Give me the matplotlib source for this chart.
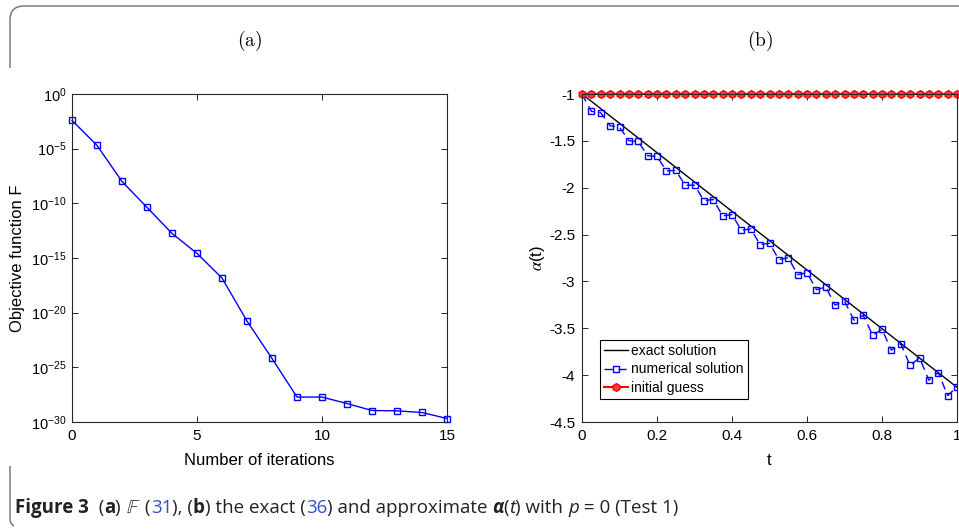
import matplotlib
matplotlib.use("Agg")
import matplotlib.pyplot as plt
from matplotlib.path import Path
from matplotlib.patches import PathPatch
from matplotlib.ticker import NullLocator, LogFormatterSciNotation

# (a) objective function value per iteration
iterations = list(range(16))
objective_log10 = [-2.41, -4.70, -8.00, -10.37, -12.75, -14.58, -16.83, -20.77,
                   -24.19, -27.72, -27.72, -28.31, -28.95, -28.98, -29.13, -29.68]
objective = [10.0 ** v for v in objective_log10]

# (b) alpha(t): exact, numerical and initial guess
t_exact = [0.0, 1.0]
alpha_exact = [-1.0, -4.13]
t_num = [i * 0.025 for i in range(41)]
alpha_num = [-1.000, -1.185, -1.200, -1.339, -1.353, -1.499, -1.506, -1.659, -1.666,
             -1.820, -1.816, -1.973, -1.973, -2.137, -2.126, -2.301, -2.287, -2.454,
             -2.440, -2.607, -2.593, -2.768, -2.746, -2.928, -2.907, -3.088, -3.060,
             -3.252, -3.210, -3.413, -3.363, -3.573, -3.512, -3.733, -3.666, -3.897,
             -3.815, -4.054, -3.972, -4.218, -4.125]
alpha_guess = [-1.0] * len(t_num)

plt.rcParams["font.family"] = ["Liberation Sans", "DejaVu Sans"]
plt.rcParams["axes.unicode_minus"] = False

W, H = 959, 531
fig = plt.figure(figsize=(W / 100, H / 100), dpi=100)


def frac_box(x0, y0, x1, y1):
    return [x0 / W, 1 - y1 / H, (x1 - x0) / W, (y1 - y0) / H]


def style_axes(ax):
    for s in ax.spines.values():
        s.set_color("#262626")
        s.set_linewidth(0.8)
    ax.tick_params(direction="in", top=True, right=True, length=4, width=0.7,
                   labelsize=11, colors="#262626", pad=5)
    for lab in ax.get_xticklabels() + ax.get_yticklabels():
        lab.set_color("black")


# left panel
ax1 = fig.add_axes(frac_box(72, 94, 447, 422))
ax1.semilogy(iterations, objective, "-s", color="#0000ff", lw=1.0, ms=5,
             mfc="none", mew=1.0, clip_on=False)
ax1.set_xlim(0, 15)
ax1.set_ylim(1e-30, 1e0)
ax1.set_xticks([0, 5, 10, 15])
ax1.set_yticks([10.0 ** (-5 * k) for k in range(7)])
ax1.yaxis.set_major_formatter(LogFormatterSciNotation())
ax1.yaxis.set_minor_locator(NullLocator())
ax1.set_xlabel("Number of iterations", fontsize=12)
ax1.set_ylabel("Objective function F", fontsize=12)
ax1.xaxis.set_label_coords(0.5, -0.095)
ax1.yaxis.set_label_coords(-0.124, 0.5)
style_axes(ax1)
ax1.tick_params(axis="y", labelsize=10.5, pad=4)

# right panel
ax2 = fig.add_axes(frac_box(582, 94, 957, 422))
ax2.plot(t_exact, alpha_exact, "-", color="black", lw=1.0, label="exact solution")
ax2.plot(t_num, alpha_num, "--s", color="#0000ff", lw=1.0, ms=5, mfc="none",
         mew=1.0, dashes=(6, 4), label="numerical solution")
ax2.plot(t_num, alpha_guess, "-h", color="#ff0000", lw=1.5, ms=5.5, mfc="#ff4040",
         mec="#ff0000", mew=1.0, clip_on=False, label="initial guess")
ax2.set_xlim(0, 1)
ax2.set_ylim(-4.5, -1)
ax2.set_xticks([0, 0.2, 0.4, 0.6, 0.8, 1])
ax2.set_xticklabels(["0", "0.2", "0.4", "0.6", "0.8", "1"])
yt = [-1, -1.5, -2, -2.5, -3, -3.5, -4, -4.5]
ax2.set_yticks(yt)
ax2.set_yticklabels([f"{v:g}" for v in yt])
ax2.set_xlabel("t", fontsize=12)
ax2.set_ylabel(r"$\alpha$(t)", fontsize=12, math_fontfamily="stix")
ax2.xaxis.set_label_coords(0.5, -0.095)
ax2.yaxis.set_label_coords(-0.093, 0.5)
style_axes(ax2)
leg = ax2.legend(loc="lower left", bbox_to_anchor=(0.048, 0.071), borderaxespad=0,
                 fontsize=10, fancybox=False, edgecolor="black", framealpha=1,
                 handlelength=1.7, handletextpad=0.25, borderpad=0.3,
                 labelspacing=0.3)
leg.get_frame().set_linewidth(0.8)

# panel titles
fig.text(250 / W, 1 - 41 / H, r"$\mathrm{(a)}$", fontsize=14, ha="center",
         va="center", math_fontfamily="cm")
fig.text(760 / W, 1 - 41 / H, r"$\mathrm{(b)}$", fontsize=14, ha="center",
         va="center", math_fontfamily="cm")

# rounded frame pieces around the figure
r = 14
frame_top = Path([(10, 68), (10, 6 + r), (10, 6), (10 + r, 6), (W + 5, 6)],
                 [Path.MOVETO, Path.LINETO, Path.CURVE3, Path.CURVE3, Path.LINETO])
frame_bot = Path([(10, 466), (10, 524 - 6), (10, 524), (14, 526)],
                 [Path.MOVETO, Path.LINETO, Path.CURVE3, Path.CURVE3])
for p in (frame_top, frame_bot):
    verts = [(x, H - y) for x, y in p.vertices]
    fig.add_artist(PathPatch(Path(verts, p.codes), fill=False, edgecolor="#7a7a7a",
                             lw=1.1, transform=None))

# caption, laid out piece by piece
pieces = [
    ("Figure 3", dict(fontweight="bold")),
    ("  (", {}),
    ("a", dict(fontweight="bold")),
    (") ", {}),
    (r"$\mathbb{F}$", dict(math_fontfamily="stix")),
    (" (", {}),
    ("31", dict(color="#3050d0")),
    ("), (", {}),
    ("b", dict(fontweight="bold")),
    (") the exact (", {}),
    ("36", dict(color="#3050d0")),
    (") and approximate ", {}),
    ("\u03b1", dict(fontweight="bold", fontstyle="italic")),
    ("(", {}),
    ("t", dict(fontstyle="italic")),
    (") with ", {}),
    ("p", dict(fontstyle="italic")),
    (" = 0 (Test 1)", {}),
]
renderer = fig.canvas.get_renderer()
x = 15.0
cap_y = 1 - 513 / H
for txt, kw in pieces:
    opts = dict(fontsize=13.5, family=["Open Sans", "DejaVu Sans"], va="baseline",
                color="#222222")
    opts.update(kw)
    t = fig.text(x / W, cap_y, txt, **opts)
    bb = t.get_window_extent(renderer)
    x = bb.x1

fig.savefig("out.png", dpi=100)
